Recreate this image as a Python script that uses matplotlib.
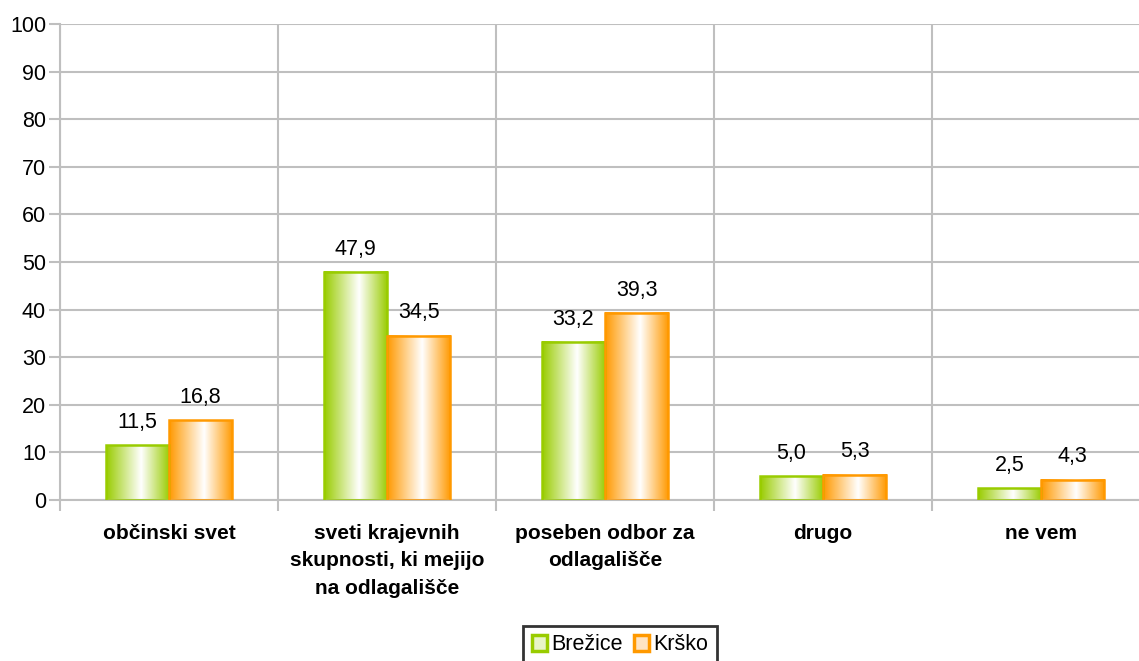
import numpy as np
import matplotlib.pyplot as plt
from matplotlib.colors import LinearSegmentedColormap
from matplotlib.patches import Patch

plt.rcParams['font.family'] = ['Liberation Sans', 'DejaVu Sans']

categories = ['občinski svet',
              'sveti krajevnih\nskupnosti, ki mejijo\nna odlagališče',
              'poseben odbor za\nodlagališče',
              'drugo',
              'ne vem']
brezice = [11.5, 47.9, 33.2, 5.0, 2.5]
krsko = [16.8, 34.5, 39.3, 5.3, 4.3]
series = [('Brežice', brezice, '#99CC00'), ('Krško', krsko, '#FF9900')]

fig = plt.figure(figsize=(11.39, 6.61), dpi=100)
ax = fig.add_axes([60 / 1139, 161 / 661, 1090 / 1139, 476 / 661])

grid_c = '#BFBFBF'
n = len(categories)
ax.set_xlim(0, n)
ax.set_ylim(0, 100)
ax.set_yticks(range(0, 101, 10))
ax.set_xticks(np.arange(n) + 0.5)
ax.set_xticklabels(categories, fontweight='bold', fontsize=15, linespacing=1.58, va='top')
ax.set_xticks(np.arange(n + 1), minor=True)
ax.tick_params(axis='x', which='major', length=0, pad=17)
ax.tick_params(axis='x', which='minor', length=8, color=grid_c, width=1.5)
ax.tick_params(axis='y', length=8, color=grid_c, width=1.5, labelsize=15.5, pad=2)
ax.grid(axis='y', color=grid_c, lw=1.5)
ax.grid(axis='x', which='minor', color=grid_c, lw=1.5)
ax.set_axisbelow(True)
for s in ['top', 'right']:
    ax.spines[s].set_visible(False)
for s in ['left', 'bottom']:
    ax.spines[s].set_color(grid_c)
    ax.spines[s].set_linewidth(1.5)

bw = 0.29
grad = np.linspace(0, 1, 256).reshape(1, -1)
for k, (name, vals, col) in enumerate(series):
    cmap = LinearSegmentedColormap.from_list(name, [(0, col), (0.55, 'white'), (1, col)])
    for i, v in enumerate(vals):
        x0 = i + 0.5 - bw + k * bw
        ax.imshow(grad, cmap=cmap, extent=(x0, x0 + bw, 0, v), aspect='auto',
                  interpolation='bilinear', zorder=2)
        ax.add_patch(plt.Rectangle((x0, 0), bw, v, fill=False, edgecolor=col, lw=1.8, zorder=3))
        ax.text(x0 + bw / 2, v + 2.6, f'{v:.1f}'.replace('.', ','), ha='center', va='bottom',
                fontsize=15.5)

ax.set_xlim(0, n)
ax.set_ylim(0, 100)

handles = [Patch(facecolor='#E8F5C8', edgecolor='#99CC00', lw=2.5),
           Patch(facecolor='#FFE4C4', edgecolor='#FF9900', lw=2.5)]
leg = fig.legend(handles, ['Brežice', 'Krško'], loc='center', bbox_to_anchor=(620 / 1139, 1 - 645 / 661),
                 ncol=2, fontsize=15.5, frameon=True, fancybox=False, handlelength=0.7,
                 handleheight=0.7, handletextpad=0.2, columnspacing=0.5, borderpad=0.4)
leg.get_frame().set_edgecolor('black')
leg.get_frame().set_linewidth(2)

fig.savefig('out.png', dpi=100)
